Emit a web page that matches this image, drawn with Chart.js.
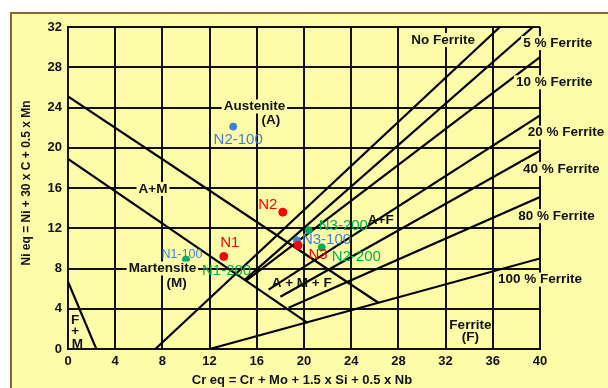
<!DOCTYPE html>
<html><head><meta charset="utf-8">
<script src="https://cdn.jsdelivr.net/npm/chart.js@4.4.1/dist/chart.umd.min.js"></script>
<style>html,body{margin:0;padding:0;background:#fff;}#wrap{width:608px;height:388px;}</style>
</head><body><div id="wrap"><canvas id="c" width="608" height="388"></canvas></div>
<script>
// Schaeffler constitution diagram with weld sample positions
const crEqTicks = [0, 4, 8, 12, 16, 20, 24, 28, 32, 36, 40];
const niEqTicks = [0, 4, 8, 12, 16, 20, 24, 28, 32];

// weld samples (Cr eq, Ni eq)
const asWeldedNames = ['N1', 'N2', 'N3'];
const asWeldedCr = [13.2, 18.2, 19.5];
const asWeldedNi = [9.2, 13.6, 10.3];
const set100Names = ['N1-100', 'N2-100', 'N3-100'];
const set100Cr = [8.9, 14.0, 19.4];
const set100Ni = [8.3, 22.1, 10.8];
const set200Names = ['N1-200', 'N2-200', 'N3-200'];
const set200Cr = [10.0, 21.5, 20.4];
const set200Ni = [8.9, 10.1, 11.8];

// phase boundaries, [Cr eq, Ni eq] end points
const austeniteBoundary = [[0, 25.1], [26.3, 4.6]];
const martensiteBoundary = [[0, 18.9], [20.3, 2.6]];
const ferriteMartensiteBoundary = [[0, 6.7], [2.4, 0]];
const noFerriteLine = [[7.4, 0], [36.6, 32]];
const ferrite5Line = [[15.0, 6.9], [39.4, 32]];
const ferrite10Line = [[15.1, 6.8], [40, 29]];
const ferrite20Line = [[17.0, 5.9], [40, 23.2]];
const ferrite40Line = [[18.0, 5.2], [40, 19.7]];
const ferrite80Line = [[18.7, 4.1], [40, 15.1]];
const ferrite100Line = [[12, 0], [40, 9]];

const YELLOW = '#FDFDA9';
const RED = '#FF0000', BLUE = '#3F7FD6', GREEN = '#00B050';

const toPoints = (xs, ys) => xs.map((x, i) => ({x: x, y: ys[i]}));
const segment = pts => ({
  data: pts.map(p => ({x: p[0], y: p[1]})),
  showLine: true, borderColor: '#000', borderWidth: 2.2,
  pointRadius: 0, pointHoverRadius: 0, fill: false
});
const sampleSet = (xs, ys, names, color, r) => ({
  data: toPoints(xs, ys), names: names,
  backgroundColor: color, borderColor: color, pointRadius: r, showLine: false
});

const boundaries = [austeniteBoundary, martensiteBoundary, ferriteMartensiteBoundary,
  noFerriteLine, ferrite5Line, ferrite10Line, ferrite20Line, ferrite40Line,
  ferrite80Line, ferrite100Line];

// region captions: text, Cr eq, Ni eq, masked background
const regionCaptions = [
  ['Austenite', 15.8, 24.1, true], ['(A)', 17.2, 22.7, false], ['A+M', 7.2, 15.9, true],
  ['Martensite', 8.0, 8.0, true], ['(M)', 9.2, 6.5, false],
  ['F', 0.6, 2.9, false], ['+', 0.6, 1.8, false], ['M', 0.8, 0.5, false],
  ['A + M + F', 19.8, 6.5, false], ['A+F', 26.5, 12.8, false], ['No Ferrite', 31.8, 30.7, true],
  ['5 % Ferrite', 41.5, 30.4, true], ['10 % Ferrite', 41.2, 26.5, true], ['20 % Ferrite', 42.2, 21.5, true],
  ['40 % Ferrite', 41.8, 17.9, true], ['80 % Ferrite', 41.4, 13.2, true], ['100 % Ferrite', 40.0, 6.9, true],
  ['Ferrite', 34.1, 2.4, false], ['(F)', 34.1, 1.2, false]
];
// sample label offsets in pixels relative to each point
const labelOffsets = {
  'N1': [6, -14, 'center'], 'N2': [-15, -7, 'center'], 'N3': [20, 10, 'center'],
  'N1-100': [9, -11, 'center'], 'N2-100': [5, 13, 'center'], 'N3-100': [5, 0, 'left'],
  'N1-200': [16, 11, 'left'], 'N2-200': [10, 9, 'left'], 'N3-200': [10, -4, 'left']
};

const frame = {
  id: 'frame',
  beforeDraw(chart) {
    const ctx = chart.ctx;
    ctx.save();
    ctx.fillStyle = '#fff';
    ctx.fillRect(0, 0, chart.width, chart.height);
    ctx.fillStyle = YELLOW;
    ctx.fillRect(10, 12, chart.width - 10, chart.height - 12);
    ctx.strokeStyle = '#94622F';
    ctx.lineWidth = 2;
    ctx.beginPath();
    ctx.moveTo(11, chart.height); ctx.lineTo(11, 13); ctx.lineTo(chart.width, 13);
    ctx.stroke();
    ctx.restore();
  }
};

const captions = {
  id: 'captions',
  afterDatasetsDraw(chart) {
    const ctx = chart.ctx, xs = chart.scales.x, ys = chart.scales.y;
    ctx.save();
    ctx.textBaseline = 'middle';
    ctx.textAlign = 'center';
    ctx.font = 'bold 13.5px "Liberation Sans", Arial, sans-serif';
    regionCaptions.forEach(([t, cx, cy, masked]) => {
      const px = xs.getPixelForValue(cx), py = ys.getPixelForValue(cy);
      const w = ctx.measureText(t).width;
      if (masked) {
        ctx.fillStyle = YELLOW;
        ctx.fillRect(px - w / 2 - 2, py - 7, w + 4, 14);
      }
      ctx.fillStyle = '#111';
      ctx.fillText(t, px, py);
    });
    // sample labels
    chart.data.datasets.forEach((ds, di) => {
      if (!ds.names) return;
      const meta = chart.getDatasetMeta(di);
      meta.data.forEach((el, i) => {
        const name = ds.names[i];
        const off = labelOffsets[name];
        ctx.font = (name === 'N1-100' ? '12.5px' : '15px') + ' "Liberation Sans", Arial, sans-serif';
        ctx.fillStyle = ds.backgroundColor;
        ctx.textAlign = off[2];
        ctx.fillText(name, el.x + off[0], el.y + off[1]);
      });
    });
    // axis titles
    ctx.fillStyle = '#111';
    ctx.font = 'bold 13px "Liberation Sans", Arial, sans-serif';
    ctx.textAlign = 'center';
    ctx.fillText('Cr eq = Cr + Mo + 1.5 x Si + 0.5 x Nb', 302, 380);
    ctx.font = 'bold 12px "Liberation Sans", Arial, sans-serif';
    ctx.translate(27, 183);
    ctx.rotate(-Math.PI / 2);
    ctx.fillText('Ni eq = Ni + 30 x C + 0.5 x Mn', 0, 0);
    ctx.restore();
  }
};

const tickFont = {family: '"Liberation Sans", Arial, sans-serif', size: 13, weight: 'bold'};

new Chart(document.getElementById('c'), {
  type: 'scatter',
  data: {
    datasets: [
      sampleSet(asWeldedCr, asWeldedNi, asWeldedNames, RED, 4),
      sampleSet(set100Cr, set100Ni, set100Names, BLUE, 3.5),
      sampleSet(set200Cr, set200Ni, set200Names, GREEN, 3.5)
    ].concat(boundaries.map(segment))
  },
  options: {
    responsive: false, animation: false, devicePixelRatio: 1,
    layout: {padding: {top: 27, right: 68, left: 0, bottom: 0}},
    plugins: {legend: {display: false}, tooltip: {enabled: false}},
    scales: {
      x: {
        type: 'linear', min: crEqTicks[0], max: crEqTicks[crEqTicks.length - 1],
        afterFit: s => { s.height = 39; },
        afterBuildTicks: s => { s.ticks = crEqTicks.map(v => ({value: v})); },
        ticks: {color: '#111', font: tickFont, padding: 5},
        grid: {color: '#111', lineWidth: 2, drawTicks: false},
        border: {color: '#111', width: 2}
      },
      y: {
        type: 'linear', min: niEqTicks[0], max: niEqTicks[niEqTicks.length - 1],
        afterFit: s => { s.width = 68; },
        afterBuildTicks: s => { s.ticks = niEqTicks.map(v => ({value: v})); },
        ticks: {color: '#111', font: tickFont, padding: 6},
        grid: {color: '#111', lineWidth: 2, drawTicks: false},
        border: {color: '#111', width: 2}
      }
    }
  },
  plugins: [frame, captions]
});
</script></body></html>
